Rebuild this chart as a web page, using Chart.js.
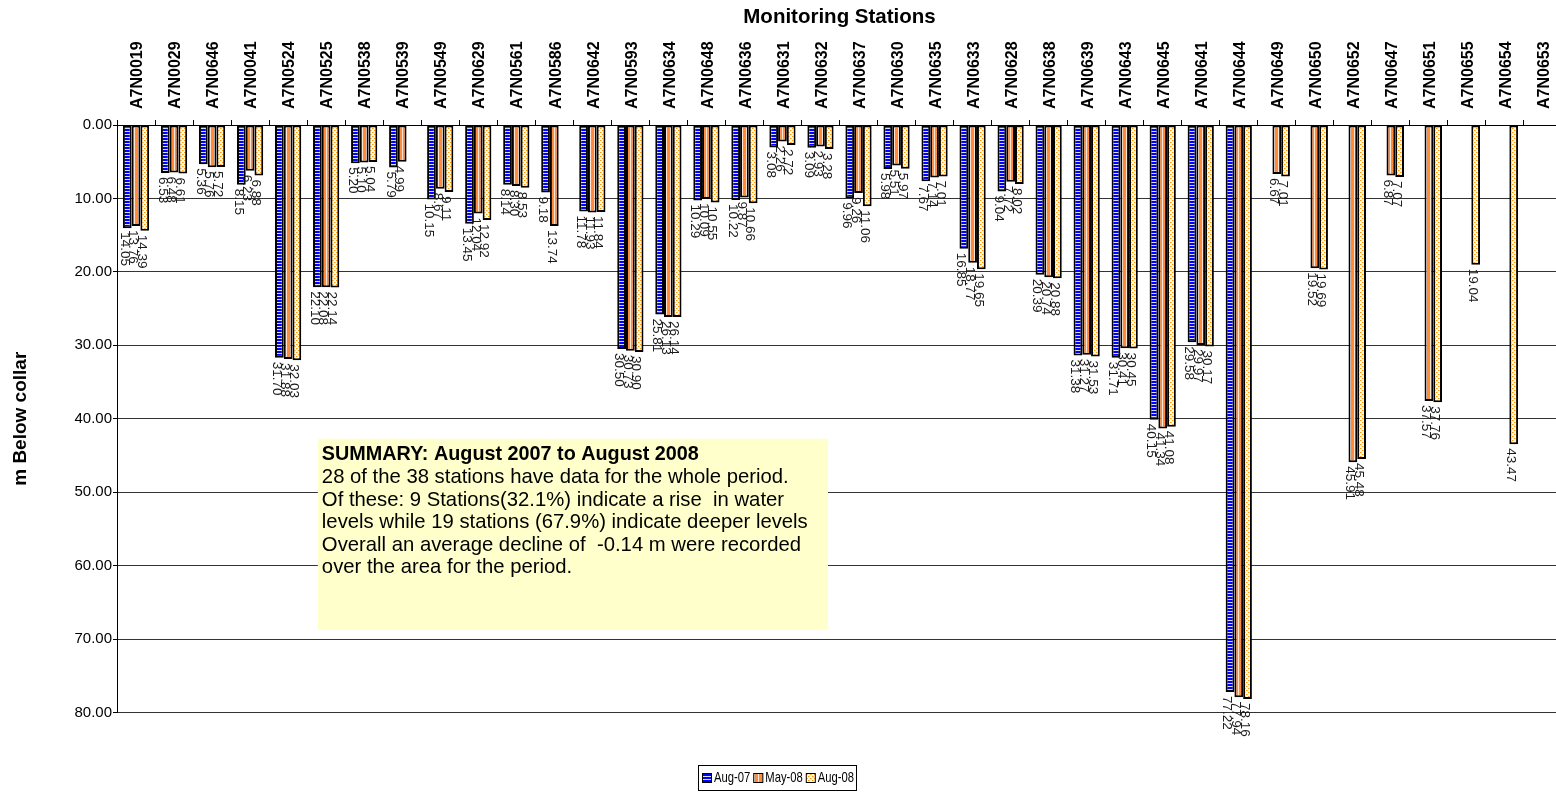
<!DOCTYPE html>
<html>
<head>
<meta charset="utf-8">
<title>Monitoring Stations - water levels</title>
<script src="https://cdn.jsdelivr.net/npm/chart.js@4/dist/chart.umd.min.js"></script>
<style>
  html, body { margin: 0; padding: 0; background: #ffffff; overflow: hidden; }
  #wrap { position: relative; width: 1556px; height: 804px; overflow: hidden; }
  canvas { display: block; }
</style>
</head>
<body>
<div id="wrap"><canvas id="chart" width="1564" height="804"></canvas></div>
<script>
// Monitoring stations, in plotting order
const stations = [
  'A7N0019','A7N0029','A7N0646','A7N0041','A7N0524','A7N0525','A7N0538','A7N0539',
  'A7N0549','A7N0629','A7N0561','A7N0586','A7N0642','A7N0593','A7N0634','A7N0648',
  'A7N0636','A7N0631','A7N0632','A7N0637','A7N0630','A7N0635','A7N0633','A7N0628',
  'A7N0638','A7N0639','A7N0643','A7N0645','A7N0641','A7N0644','A7N0649','A7N0650',
  'A7N0652','A7N0647','A7N0651','A7N0655','A7N0654','A7N0653'
];

// Water level, metres below collar (null = no reading)
const aug07 = [
  14.05, 6.53, 5.36, 8.15, 31.70, 22.10, 5.20, 5.79,
  10.15, 13.45, 8.14, 9.18, 11.78, 30.50, 25.81, 10.29,
  10.22, 3.08, 3.09, 9.96, 5.98, 7.67, 16.85, 9.04,
  20.39, 31.38, 31.71, 40.15, 29.58, 77.22, null, null,
  null, null, null, null, null, null
];
const may08 = [
  13.76, 6.48, 5.76, 6.23, 31.88, 22.08, 5.10, 4.99,
  8.67, 12.04, 8.30, 13.74, 11.93, 30.73, 26.13, 10.09,
  9.87, 2.26, 2.93, 9.26, 5.51, 7.14, 18.77, 7.72,
  20.74, 31.27, 30.41, 41.34, 29.97, 77.94, 6.67, 19.52,
  45.91, 6.87, 37.57, null, null, null
];
const aug08 = [
  14.39, 6.61, 5.72, 6.88, 32.03, 22.14, 5.04, null,
  9.11, 12.92, 8.53, null, 11.84, 30.90, 26.14, 10.55,
  10.66, 2.72, 3.28, 11.06, 5.97, 7.01, 19.65, 8.02,
  20.88, 31.53, 30.45, 41.08, 30.17, 78.16, 7.01, 19.69,
  45.48, 7.07, 37.76, 19.04, 43.47, null
];
const seriesNames = ['Aug-07', 'May-08', 'Aug-08'];

// Depth axis
const depthMin = 0;
const depthMax = 80;
const depthStep = 10;

// Summary note text
const summaryHeading = 'SUMMARY: August 2007 to August 2008';
const summaryLines = [
  '28 of the 38 stations have data for the whole period.',
  'Of these: 9 Stations(32.1%) indicate a rise  in water',
  'levels while 19 stations (67.9%) indicate deeper levels',
  'Overall an average decline of  -0.14 m were recorded',
  'over the area for the period.'
];

const FONT = '"Liberation Sans", Arial, Helvetica, sans-serif';

// Hatched fills for the three surveys
function makePattern(w, h, paint) {
  const c = document.createElement('canvas');
  c.width = w; c.height = h;
  const g = c.getContext('2d');
  paint(g, w, h);
  return g.createPattern(c, 'repeat');
}
const blueStripes = makePattern(4, 3, (g, w, h) => {
  g.fillStyle = '#0000ff'; g.fillRect(0, 0, w, h);
  g.fillStyle = '#dcdcff'; g.fillRect(0, 2, w, 1);
});
const orangeStripes = makePattern(4, 4, (g, w, h) => {
  g.fillStyle = '#ff8a3c'; g.fillRect(0, 0, w, h);
  g.fillStyle = '#ffe6d2'; g.fillRect(2, 0, 1, h);
});
const orangeDots = makePattern(4, 4, (g, w, h) => {
  g.fillStyle = '#fff8e8'; g.fillRect(0, 0, w, h);
  g.fillStyle = '#ff9a00';
  g.fillRect(0, 0, 1, 1); g.fillRect(2, 2, 1, 1);
  g.fillStyle = '#ffc766';
  g.fillRect(1, 0, 1, 1); g.fillRect(3, 2, 1, 1);
});

// Rotated value labels at the end of every bar
const valueLabels = {
  id: 'valueLabels',
  afterDatasetsDraw(chart) {
    const ctx = chart.ctx;
    ctx.save();
    ctx.font = '13.5px ' + FONT;
    ctx.fillStyle = '#1a1a1a';
    ctx.textAlign = 'left';
    ctx.textBaseline = 'middle';
    chart.data.datasets.forEach((ds, i) => {
      const meta = chart.getDatasetMeta(i);
      meta.data.forEach((bar, j) => {
        const v = ds.data[j];
        if (v === null || v === undefined) return;
        ctx.save();
        ctx.translate(bar.x - 3, bar.y + 4);
        ctx.rotate(Math.PI / 2);
        ctx.fillText(v.toFixed(2), 0, 0);
        ctx.restore();
      });
    });
    ctx.restore();
  }
};

// Yellow note box inside the plot
const summaryNote = {
  id: 'summaryNote',
  afterDraw(chart) {
    const a = chart.chartArea;
    const w = a.right - a.left, h = a.bottom - a.top;
    const x0 = a.left + w * 0.139, x1 = a.left + w * 0.492;
    const y0 = a.top + h * 0.534, y1 = a.top + h * 0.859;
    const ctx = chart.ctx;
    ctx.save();
    ctx.fillStyle = '#ffffcc';
    ctx.fillRect(x0, y0, x1 - x0, y1 - y0);
    ctx.fillStyle = '#000';
    ctx.textAlign = 'left';
    ctx.textBaseline = 'middle';
    const lh = 22.6;
    let y = y0 + 16;
    ctx.font = 'bold 19.8px ' + FONT;
    ctx.fillText(summaryHeading, x0 + 4, y);
    ctx.font = '20.3px ' + FONT;
    summaryLines.forEach(line => { y += lh; ctx.fillText(line, x0 + 4, y); });
    ctx.restore();
  }
};

// Compact framed key under the plot, built from the datasets
const seriesKey = {
  id: 'seriesKey',
  afterDraw(chart) {
    const ctx = chart.ctx;
    const items = chart.data.datasets.map(ds => ({ text: ds.label, fill: ds.backgroundColor }));
    const fontPx = 15, squeeze = 0.75, box = 10, gapBox = 2, gapItem = 3, padX = 3;
    ctx.save();
    ctx.font = fontPx + 'px ' + FONT;
    const widths = items.map(it => box + gapBox + ctx.measureText(it.text).width * squeeze);
    const total = widths.reduce((s, v) => s + v, 0) + gapItem * (items.length - 1) + 2 * padX;
    const cx = chart.width / 2 - 5;
    const cy = chart.chartArea.bottom + 65;
    const left = Math.round(cx - total / 2);
    const top = Math.round(cy - 12.5);
    ctx.strokeStyle = '#000';
    ctx.lineWidth = 1;
    ctx.strokeRect(left + 0.5, top + 0.5, Math.round(total), 25);
    let x = left + padX + 1;
    ctx.textAlign = 'left';
    ctx.textBaseline = 'middle';
    items.forEach((it, i) => {
      ctx.fillStyle = it.fill;
      ctx.fillRect(x, Math.round(cy - box / 2), box, box);
      ctx.strokeRect(x + 0.5, Math.round(cy - box / 2) + 0.5, box - 1, box - 1);
      ctx.fillStyle = '#000';
      ctx.save();
      ctx.translate(x + box + gapBox, cy + 0.5);
      ctx.scale(squeeze, 1);
      ctx.fillText(it.text, 0, 0);
      ctx.restore();
      x += widths[i] + gapItem;
    });
    ctx.restore();
  }
};

const fills = [blueStripes, orangeStripes, orangeDots];
const values = [aug07, may08, aug08];

new Chart(document.getElementById('chart'), {
  type: 'bar',
  data: {
    labels: stations,
    datasets: seriesNames.map((name, i) => ({
      label: name,
      data: values[i],
      backgroundColor: fills[i],
      borderColor: '#000000',
      borderWidth: 2,
      borderSkipped: false,
      categoryPercentage: 0.69,
      barPercentage: 1.0
    }))
  },
  options: {
    responsive: false,
    animation: false,
    layout: { padding: { left: 0, right: 2, top: 0, bottom: 91.5 } },
    scales: {
      x: {
        position: 'top',
        offset: true,
        grid: { display: true, drawOnChartArea: false, drawTicks: true, tickLength: 5, color: '#000', offset: true },
        border: { display: true, color: '#000', width: 1 },
        ticks: {
          autoSkip: false, minRotation: 90, maxRotation: 90, padding: 11, labelOffset: 21, color: '#000',
          font: { family: FONT, size: 16, weight: 'bold' }
        },
        title: {
          display: true, text: 'Monitoring Stations', color: '#000',
          font: { family: FONT, size: 20.5, weight: 'bold' },
          padding: { top: 5, bottom: 2 }
        },
        afterFit(scale) { scale.height = 125; }
      },
      y: {
        reverse: true,
        min: depthMin,
        max: depthMax,
        ticks: {
          stepSize: depthStep,
          callback: v => Number(v).toFixed(2),
          color: '#000', padding: 1,
          font: { family: FONT, size: 15 }
        },
        grid: { color: '#333', lineWidth: 1, drawTicks: true, tickLength: 4, tickColor: '#000' },
        border: { display: true, color: '#000', width: 1 },
        title: {
          display: true, text: 'm Below collar', color: '#000',
          font: { family: FONT, size: 19, weight: 'bold' },
          padding: { top: 9, bottom: 0 }
        },
        afterFit(scale) { scale.width = 117; }
      }
    },
    plugins: {
      tooltip: { enabled: false },
      legend: { display: false }
    }
  },
  plugins: [valueLabels, summaryNote, seriesKey]
});
</script>
</body>
</html>
